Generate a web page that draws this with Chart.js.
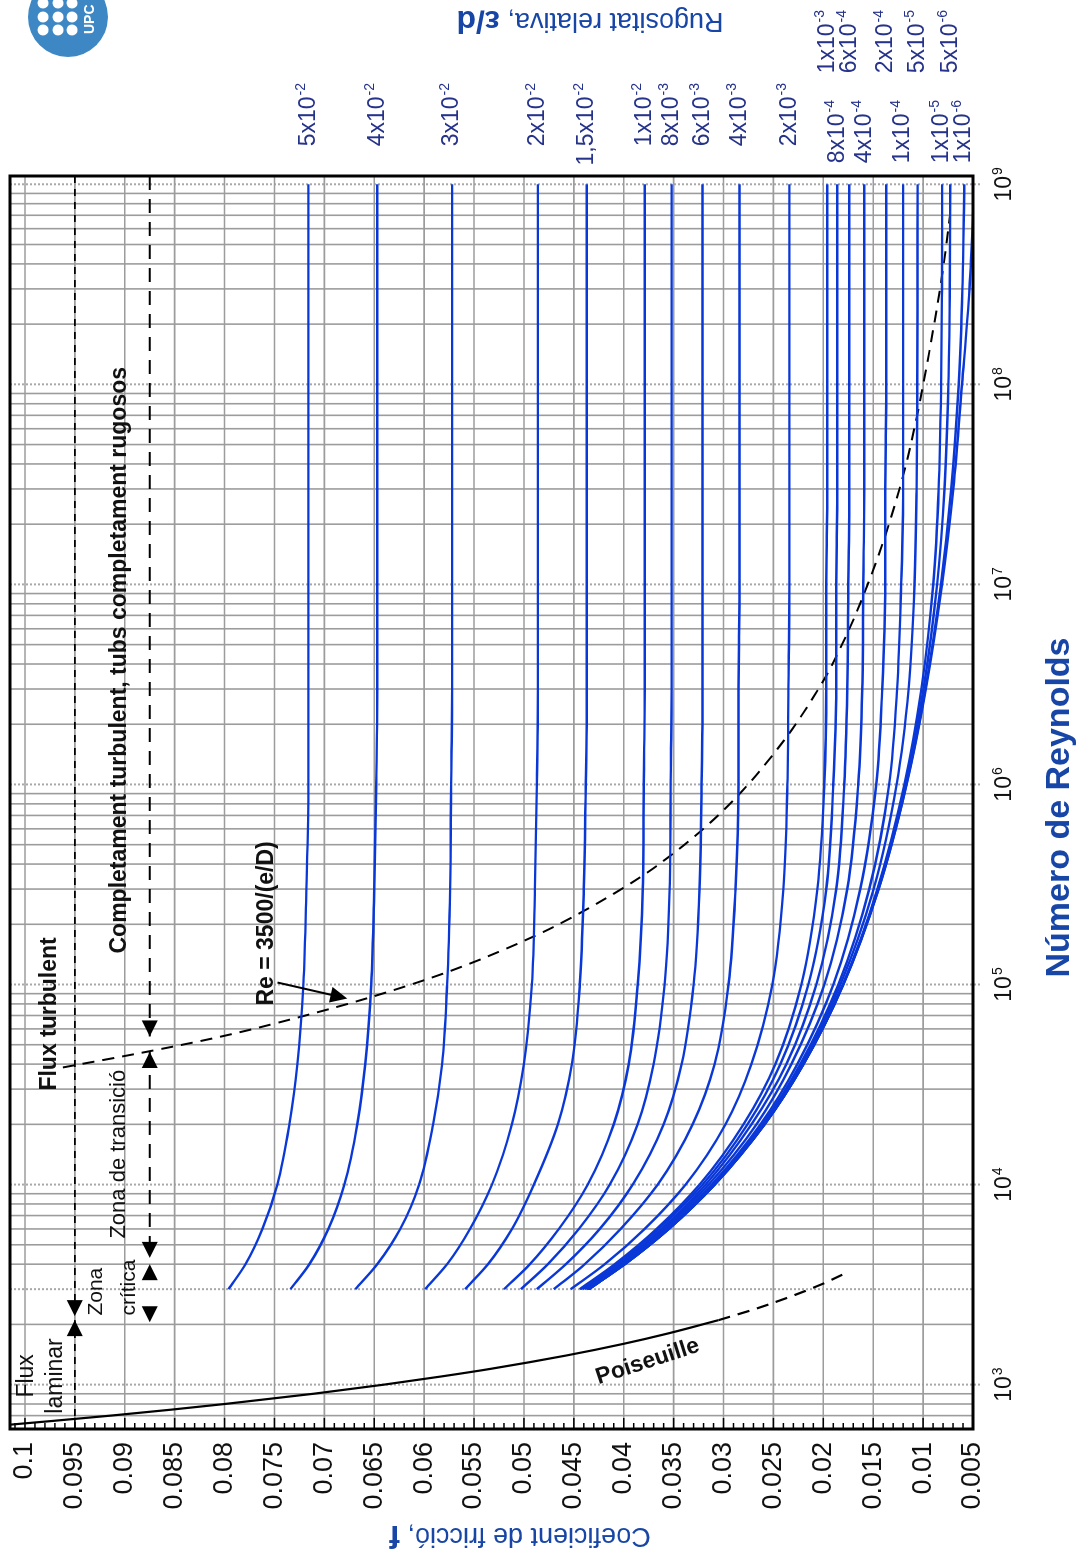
<!DOCTYPE html>
<html>
<head>
<meta charset="utf-8">
<script src="https://cdn.jsdelivr.net/npm/chart.js@4.4.1/dist/chart.umd.min.js"></script>
<style>
  html, body { margin: 0; padding: 0; background: #fff; }
  #wrap { position: relative; width: 1088px; height: 1559px; overflow: hidden; }
  #moody { position: absolute; left: 0; top: 0; transform-origin: 0 0; transform: translateY(1559px) rotate(-90deg); }
</style>
</head>
<body>
<div id="wrap"><canvas id="moody" width="1559" height="1088"></canvas></div>
<script>
const reynolds = [3000, 4000, 6000, 1e4, 2e4, 4e4, 1e5, 3e5, 1e6, 3e6, 1e7, 3e7, 1e8, 3e8, 1e9];

const roughLabels = ["5x10^-2", "4x10^-2", "3x10^-2", "2x10^-2", "1,5x10^-2", "1x10^-2", "8x10^-3", "6x10^-3",
  "4x10^-3", "2x10^-3", "1x10^-3", "8x10^-4", "6x10^-4", "4x10^-4", "2x10^-4", "1x10^-4", "5x10^-5",
  "1x10^-5", "5x10^-6", "1x10^-6"];

const f_5e2 = [0.0796, 0.0779, 0.0762, 0.0747, 0.0735, 0.0727, 0.0721, 0.0718, 0.0716, 0.0716, 0.0716, 0.0716, 0.0716, 0.0716, 0.0716];
const f_4e2 = [0.0734, 0.0715, 0.0696, 0.0680, 0.0667, 0.0659, 0.0653, 0.0650, 0.0648, 0.0647, 0.0647, 0.0647, 0.0647, 0.0647, 0.0647];
const f_3e2 = [0.0669, 0.0647, 0.0624, 0.0605, 0.0591, 0.0582, 0.0577, 0.0574, 0.0573, 0.0572, 0.0572, 0.0572, 0.0572, 0.0572, 0.0572];
const f_2e2 = [0.0599, 0.0577, 0.0554, 0.0532, 0.0512, 0.0500, 0.0492, 0.0489, 0.0487, 0.0486, 0.0486, 0.0486, 0.0486, 0.0486, 0.0486];
const f_15e3 = [0.0559, 0.0536, 0.0512, 0.0490, 0.0466, 0.0452, 0.0444, 0.0440, 0.0438, 0.0437, 0.0437, 0.0437, 0.0437, 0.0437, 0.0437];
const f_1e2 = [0.0520, 0.0494, 0.0465, 0.0436, 0.0410, 0.0395, 0.0386, 0.0381, 0.0380, 0.0379, 0.0379, 0.0379, 0.0379, 0.0379, 0.0379];
const f_8e3 = [0.0503, 0.0476, 0.0445, 0.0414, 0.0386, 0.0370, 0.0359, 0.0354, 0.0353, 0.0352, 0.0352, 0.0352, 0.0352, 0.0352, 0.0352];
const f_6e3 = [0.0487, 0.0458, 0.0424, 0.0391, 0.0360, 0.0342, 0.0330, 0.0324, 0.0322, 0.0321, 0.0321, 0.0321, 0.0321, 0.0321, 0.0321];
const f_4e3 = [0.0470, 0.0439, 0.0403, 0.0366, 0.0331, 0.0309, 0.0295, 0.0288, 0.0285, 0.0285, 0.0284, 0.0284, 0.0284, 0.0284, 0.0284];
const f_2e3 = [0.0453, 0.0419, 0.0379, 0.0338, 0.0298, 0.0272, 0.0251, 0.0240, 0.0236, 0.0235, 0.0234, 0.0234, 0.0234, 0.0234, 0.0234];
const f_1e3 = [0.0444, 0.0409, 0.0367, 0.0324, 0.0280, 0.0248, 0.0222, 0.0206, 0.0199, 0.0197, 0.0197, 0.0196, 0.0196, 0.0196, 0.0196];
const f_8e4 = [0.0443, 0.0407, 0.0365, 0.0321, 0.0276, 0.0243, 0.0215, 0.0197, 0.0190, 0.0187, 0.0187, 0.0186, 0.0186, 0.0186, 0.0186];
const f_6e4 = [0.0441, 0.0405, 0.0362, 0.0318, 0.0272, 0.0237, 0.0207, 0.0187, 0.0179, 0.0176, 0.0175, 0.0174, 0.0174, 0.0174, 0.0174];
const f_4e4 = [0.0439, 0.0403, 0.0360, 0.0315, 0.0267, 0.0232, 0.0199, 0.0176, 0.0165, 0.0161, 0.0160, 0.0159, 0.0159, 0.0159, 0.0159];
const f_2e4 = [0.0437, 0.0401, 0.0358, 0.0312, 0.0263, 0.0226, 0.0190, 0.0163, 0.0147, 0.0141, 0.0138, 0.0138, 0.0137, 0.0137, 0.0137];
const f_1e4 = [0.0436, 0.0400, 0.0356, 0.0310, 0.0261, 0.0223, 0.0185, 0.0154, 0.0134, 0.0126, 0.0122, 0.0120, 0.0120, 0.0120, 0.0120];
const f_5e5 = [0.0436, 0.0400, 0.0356, 0.0310, 0.0260, 0.0222, 0.0183, 0.01496, 0.01265, 0.01145, 0.01086, 0.01065, 0.01058, 0.01056, 0.01055];
const f_1e5 = [0.0435, 0.0399, 0.0355, 0.0309, 0.0259, 0.0220, 0.01805, 0.01457, 0.01187, 0.01017, 0.00899, 0.00844, 0.00819, 0.00811, 0.00809];
const f_5e6 = [0.0435, 0.0399, 0.0355, 0.0309, 0.0259, 0.0220, 0.01802, 0.01452, 0.01176, 0.00996, 0.00860, 0.00786, 0.00747, 0.00733, 0.00728];
const f_1e6 = [0.0435, 0.0399, 0.0355, 0.0309, 0.0259, 0.0220, 0.01800, 0.01447, 0.01167, 0.00977, 0.00822, 0.00718, 0.00643, 0.00606, 0.00588];
const f_smooth = [0.0435, 0.0399, 0.0355, 0.0309, 0.0259, 0.0220, 0.01799, 0.01446, 0.01165, 0.00972, 0.00810, 0.00698, 0.00610, 0.00535, 0.00485];

const curves = [f_5e2, f_4e2, f_3e2, f_2e2, f_15e3, f_1e2, f_8e3, f_6e3, f_4e3, f_2e3, f_1e3, f_8e4,
  f_6e4, f_4e4, f_2e4, f_1e4, f_5e5, f_1e5, f_5e6, f_1e6];

// Poiseuille (flux laminar)
const poisRe = [620, 660, 700, 750, 800, 900, 1000, 1100, 1200, 1400, 1600, 1800, 2100];
const poisF = [0.1032, 0.0970, 0.0914, 0.0853, 0.0800, 0.0711, 0.0640, 0.0582, 0.0533, 0.0457, 0.0400, 0.0356, 0.0305];
const poisExtRe = [2100, 2400, 2800, 3200, 3600];
const poisExtF = [0.0305, 0.0267, 0.0229, 0.0200, 0.0178];

// Re = 3500/(e/D)
const limitRe = [38500, 46000, 55000, 70000, 87500, 116700, 175000, 233300, 350000, 437500, 583300, 875000,
  1750000, 3500000, 4375000, 5833000, 8750000, 17500000, 35000000, 70000000, 350000000, 700000000];
const limitF = [0.0962, 0.0879, 0.0803, 0.0719, 0.0650, 0.0574, 0.0489, 0.0440, 0.0381, 0.0354, 0.0323, 0.0286,
  0.0236, 0.0197, 0.0187, 0.0175, 0.0160, 0.0138, 0.0120, 0.0106, 0.0081, 0.0073];

// zones (linies discontinues amb fletxes)
const laminarF = 0.095;
const zoneF = 0.0875;
const laminarUpRe = [1.1e9, 2200];
const laminarDownRe = [600, 2100];
const turbRe = [1.1e9, 55000];
const transRe = [46000, 4300];
const critRe = [4000, 2050];
// [Re, f, sentit]
const arrowHeads = [[2200, laminarF, -1], [2100, laminarF, 1], [55000, zoneF, -1], [46000, zoneF, 1],
  [4300, zoneF, -1], [4000, zoneF, 1], [2050, zoneF, -1]];

const reTicks = [1e3, 1e4, 1e5, 1e6, 1e7, 1e8, 1e9];
const fTicks = [0.005, 0.01, 0.015, 0.02, 0.025, 0.03, 0.035, 0.04, 0.045, 0.05, 0.055, 0.06, 0.065, 0.07,
  0.075, 0.08, 0.085, 0.09, 0.095, 0.1];

// textos: [text, Re, f, negreta, mida]
const notes = [
  ["Flux", 861, 0.0998, false, 23],
  ["laminar", 716, 0.0969, false, 23],
  ["Zona", 2213, 0.0929, false, 21],
  ["crítica", 2213, 0.0896, false, 21],
  ["Zona de transició", 5370, 0.0906, false, 22],
  ["Flux turbulent", 29500, 0.0975, true, 23],
  ["Completament turbulent, tubs completament rugosos", 142900, 0.0905, true, 23],
  ["Re = 3500/(e/D)", 78500, 0.0758, true, 23],
];

// ---------------------------------------------
const FONT = '"Liberation Sans", Arial, Helvetica, sans-serif';
const BLUE = "#0a38d8";
const NAVY = "#25338a";
const TITLE = "#1846a6";

const pts = (xs, ys) => xs.map((v, i) => ({ x: v, y: ys[i] }));
const flat = (xs, f) => xs.map((v) => ({ x: v, y: f }));

const datasets = curves.map((vals) => ({
  data: pts(reynolds, vals),
  borderColor: BLUE,
  borderWidth: 2.4,
  cubicInterpolationMode: "monotone",
}));
datasets.push({ data: pts(reynolds, f_smooth), borderColor: BLUE, borderWidth: 2.4, cubicInterpolationMode: "monotone" });
datasets.push({ data: pts(poisRe, poisF), borderColor: "#000", borderWidth: 2.2, cubicInterpolationMode: "monotone" });
datasets.push({ data: pts(poisExtRe, poisExtF), borderColor: "#000", borderWidth: 2.2, borderDash: [12, 8], cubicInterpolationMode: "monotone" });
datasets.push({ data: pts(limitRe, limitF), borderColor: "#000", borderWidth: 2, borderDash: [12, 8], cubicInterpolationMode: "monotone" });
datasets.push({ data: flat(laminarUpRe, laminarF), borderColor: "#000", borderWidth: 1.6, borderDash: [7, 6] });
datasets.push({ data: flat(laminarDownRe, laminarF), borderColor: "#000", borderWidth: 1.6, borderDash: [7, 6] });
datasets.push({ data: flat(turbRe, zoneF), borderColor: "#000", borderWidth: 2, borderDash: [14, 9] });
datasets.push({ data: flat(transRe, zoneF), borderColor: "#000", borderWidth: 2, borderDash: [14, 9] });
datasets.push({ data: flat(critRe, zoneF), borderColor: "rgba(0,0,0,0)", borderWidth: 0 });
datasets.forEach((d) => { d.showLine = true; d.pointRadius = 0; d.fill = false; });

function drawPow(ctx, text, x, y, size, align) {
  const [base, exp] = text.split("^");
  const small = Math.round(size * 0.62);
  ctx.font = `${size}px ${FONT}`;
  const w1 = ctx.measureText(base).width;
  ctx.font = `${small}px ${FONT}`;
  const w2 = exp ? ctx.measureText(exp).width + 1 : 0;
  let x0 = x;
  if (align === "center") x0 = x - (w1 + w2) / 2;
  else if (align === "right") x0 = x - w1 - w2;
  const by = y + size * 0.36;
  ctx.textAlign = "left";
  ctx.textBaseline = "alphabetic";
  ctx.font = `${size}px ${FONT}`;
  ctx.fillText(base, x0, by);
  if (exp) {
    ctx.font = `${small}px ${FONT}`;
    ctx.fillText(exp, x0 + w1 + 1, by - size * 0.42);
  }
}

// text amb parts de fonts diferents, centrat i girat
function drawMixed(ctx, parts, cx, cy, angle, color) {
  ctx.save();
  ctx.translate(cx, cy);
  ctx.rotate(angle);
  ctx.fillStyle = color;
  ctx.textAlign = "left";
  ctx.textBaseline = "middle";
  let total = 0;
  parts.forEach(([t, f]) => { ctx.font = f; total += ctx.measureText(t).width; });
  let x = -total / 2;
  parts.forEach(([t, f]) => { ctx.font = f; ctx.fillText(t, x, 0); x += ctx.measureText(t).width; });
  ctx.restore();
}

function arrowHead(ctx, px, py, dx, dy, len, half) {
  ctx.beginPath();
  ctx.moveTo(px, py);
  ctx.lineTo(px - dx * len - dy * half, py - dy * len + dx * half);
  ctx.lineTo(px - dx * len + dy * half, py - dy * len - dx * half);
  ctx.closePath();
  ctx.fill();
}

const labelRow = [0, 0, 0, 0, 0, 0, 0, 0, 0, 0, 2, 1, 2, 1, 2, 1, 2, 1, 2, 1];
const rowRight = [1476, 1459, 1549];

const moodyPlugin = {
  id: "moody",
  beforeDatasetsDraw(chart) {
    const { ctx, chartArea: a, scales: { x, y } } = chart;
    ctx.save();
    // rejilla Reynolds
    for (let d = 100; d <= 1e9; d *= 10) {
      for (let k = 1; k <= 9; k++) {
        const v = k * d;
        if (v < x.min || v > x.max) continue;
        const px = x.getPixelForValue(v);
        const dotted = k === 1 || v === 3000;
        ctx.beginPath();
        ctx.setLineDash(dotted ? [2, 2] : []);
        ctx.strokeStyle = dotted ? "#a8a8a8" : "#9c9c9c";
        ctx.lineWidth = dotted ? 2 : 1.6;
        ctx.moveTo(px, a.top);
        ctx.lineTo(px, k === 1 ? a.bottom + 8 : a.bottom);
        ctx.stroke();
      }
    }
    // rejilla f
    ctx.setLineDash([]);
    ctx.strokeStyle = "#9c9c9c";
    ctx.lineWidth = 1.6;
    fTicks.forEach((v) => {
      const py = y.getPixelForValue(v);
      ctx.beginPath();
      ctx.moveTo(a.left, py);
      ctx.lineTo(a.right, py);
      ctx.stroke();
    });
    ctx.restore();
  },
  afterDatasetsDraw(chart) {
    const { ctx, chartArea: a, scales: { x, y } } = chart;
    ctx.save();
    // marc
    ctx.strokeStyle = "#000";
    ctx.lineWidth = 3;
    ctx.strokeRect(a.left, a.top, a.right - a.left, a.bottom - a.top);
    // marques interiors cada 0.001
    ctx.lineWidth = 1.5;
    for (let k = 5; k <= 101; k++) {
      const py = y.getPixelForValue(k / 1000);
      const len = k % 5 === 0 ? 11 : 6;
      ctx.beginPath();
      ctx.moveTo(a.left, py);
      ctx.lineTo(a.left + len, py);
      ctx.stroke();
    }
    // fletxes de zona
    ctx.fillStyle = "#000";
    arrowHeads.forEach(([re, f, dir]) => {
      arrowHead(ctx, x.getPixelForValue(re), y.getPixelForValue(f), dir, 0, 16, 8);
    });
    // fletxa Re = 3500/(e/D)
    const x0 = x.getPixelForValue(102300), y0 = y.getPixelForValue(0.0747);
    const x1 = x.getPixelForValue(85100), y1 = y.getPixelForValue(0.0677);
    const L = Math.hypot(x1 - x0, y1 - y0), ux = (x1 - x0) / L, uy = (y1 - y0) / L;
    ctx.lineWidth = 2;
    ctx.beginPath();
    ctx.moveTo(x0, y0);
    ctx.lineTo(x1 - ux * 14, y1 - uy * 14);
    ctx.stroke();
    arrowHead(ctx, x1, y1, ux, uy, 17, 8);

    // textos
    ctx.fillStyle = "#111";
    ctx.textAlign = "left";
    ctx.textBaseline = "middle";
    notes.forEach(([t, re, f, bold, size]) => {
      ctx.font = `${bold ? "bold " : ""}${size}px ${FONT}`;
      ctx.fillText(t, x.getPixelForValue(re), y.getPixelForValue(f));
    });
    // Poiseuille
    ctx.save();
    ctx.translate(x.getPixelForValue(1303), y.getPixelForValue(0.0376));
    ctx.rotate(72 * Math.PI / 180);
    ctx.font = `bold 23px ${FONT}`;
    ctx.textAlign = "center";
    ctx.fillText("Poiseuille", 0, 0);
    ctx.restore();

    // etiquetes Re
    ctx.fillStyle = "#111";
    reTicks.forEach((v) => {
      drawPow(ctx, "10^" + Math.round(Math.log10(v)), x.getPixelForValue(v), a.bottom + 30, 23, "center");
    });

    // etiquetes rugositat
    ctx.fillStyle = NAVY;
    roughLabels.forEach((lab, i) => {
      const vals = curves[i];
      const py = y.getPixelForValue(vals[vals.length - 1]) - 2;
      drawPow(ctx, lab, rowRight[labelRow[i]], py, 23, "right");
    });

    // titols
    ctx.fillStyle = TITLE;
    ctx.font = `bold 34px ${FONT}`;
    ctx.textAlign = "center";
    ctx.textBaseline = "middle";
    ctx.fillText("Número de Reynolds", (a.left + a.right) / 2 - 5, a.bottom + 87);
    drawMixed(ctx, [["Rugositat relativa, ", `27px ${FONT}`], ["ε/d", `bold 32px ${FONT}`]], 1539, 590, -Math.PI / 2, TITLE);
    drawMixed(ctx, [["Coeficient de fricció, ", `27px ${FONT}`], ["f", `bold 32px ${FONT}`]], 24, 520, -Math.PI / 2, TITLE);

    // logo UPC
    ctx.fillStyle = "#3d88c4";
    ctx.beginPath();
    ctx.arc(1542, 68, 40, 0, Math.PI * 2);
    ctx.fill();
    ctx.fillStyle = "#fff";
    [1569, 1556, 1542, 1529].forEach((cx) => {
      [43, 58, 72].forEach((cy) => {
        ctx.beginPath();
        ctx.arc(cx, cy, 5.5, 0, Math.PI * 2);
        ctx.fill();
      });
    });
    ctx.font = `bold 14px ${FONT}`;
    ctx.textAlign = "left";
    ctx.fillText("UPC", 1525, 90);
    ctx.restore();
  },
};

const ctxMoody = document.getElementById("moody");
const moodyChart = new Chart(ctxMoody, {
  type: "scatter",
  data: { datasets: datasets },
  options: {
    responsive: false,
    animation: false,
    events: [],
    layout: { padding: { left: 0, right: 176, top: 10, bottom: 0 } },
    plugins: { legend: { display: false }, tooltip: { enabled: false } },
    scales: {
      x: {
        type: "logarithmic",
        min: 600,
        max: 1.1e9,
        grid: { display: false, drawTicks: false },
        border: { display: false },
        ticks: { display: false },
        afterFit: (s) => { s.height = 115; s.paddingLeft = 0; s.paddingRight = 0; },
      },
      y: {
        type: "linear",
        min: 0.005,
        max: 0.1015,
        grid: { display: false, drawTicks: false },
        border: { display: false },
        afterBuildTicks: (s) => { s.ticks = fTicks.map((v) => ({ value: v })); },
        ticks: {
          autoSkip: false,
          padding: 13,
          color: "#111",
          font: { family: FONT, size: 27 },
          callback: (v) => String(parseFloat(v.toFixed(3))),
        },
        afterFit: (s) => { s.width = 130; s.paddingTop = 0; s.paddingBottom = 0; },
      },
    },
  },
  plugins: [moodyPlugin],
});
</script>
</body>
</html>
